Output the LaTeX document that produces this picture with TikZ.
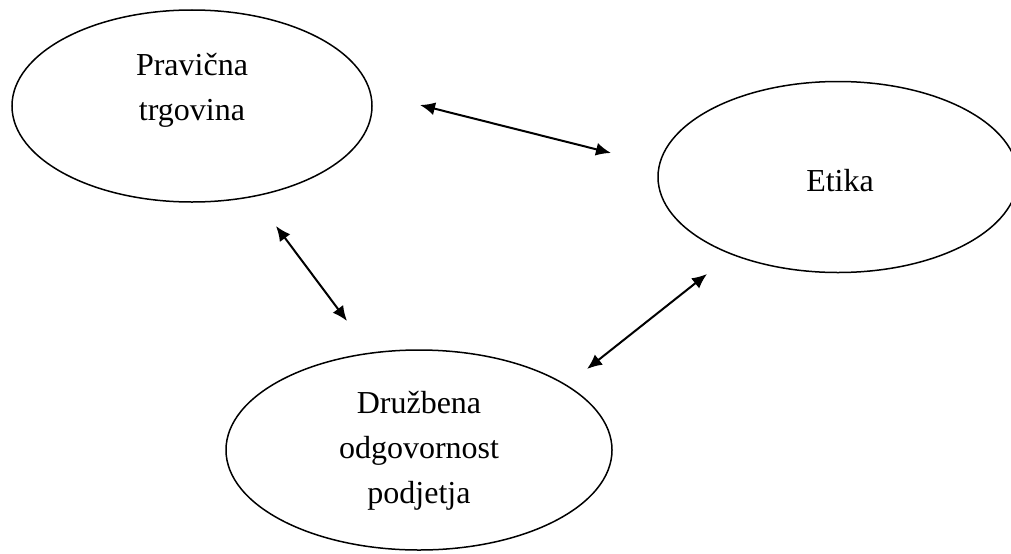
\documentclass[tikz,border=0pt]{standalone}
\usepackage{fontspec}
\setmainfont{Liberation Serif}
\usepackage{tikz}
\usetikzlibrary{shapes.geometric}
\usetikzlibrary{arrows.meta}

\begin{document}
\begin{tikzpicture}[
			x=0.4pt, y=-0.4pt,
			oval/.style={ellipse, draw=black, line width=0.6pt, inner sep=0pt},
			lbl/.style={align=center, inner sep=0pt, font=\fontsize{12.8}{18}\selectfont},
			link/.style={{Latex[length=6pt,width=5.2pt]}-{Latex[length=6pt,width=5.2pt]}, line width=0.8pt},
			]
			\useasboundingbox (0,0) rectangle (1011,553);
			\node[oval, minimum width=144pt, minimum height=76.8pt] (trade) at (192,106) {};
			\node[oval, minimum width=144pt, minimum height=76.4pt] (ethics) at (838,177) {};
			\node[oval, minimum width=154.4pt, minimum height=80pt] (csr) at (419,450) {};
			\node[lbl] (tradetxt) at (192,90) {Pravična\\trgovina};
			\node[lbl] (ethicstxt) at (840,181) {Etika};
			\node[lbl] (csrtxt) at (419,451) {Družbena\\odgovornost\\podjetja};
			\coordinate (a1) at (420,105);
			\coordinate (a2) at (611,153);
			\coordinate (b1) at (276,226);
			\coordinate (b2) at (347,321);
			\coordinate (c1) at (587,369);
			\coordinate (c2) at (707,274);
			\draw[link] (a1) -- (a2);
			\draw[link] (b1) -- (b2);
			\draw[link] (c1) -- (c2);
		\end{tikzpicture}
\end{document}
